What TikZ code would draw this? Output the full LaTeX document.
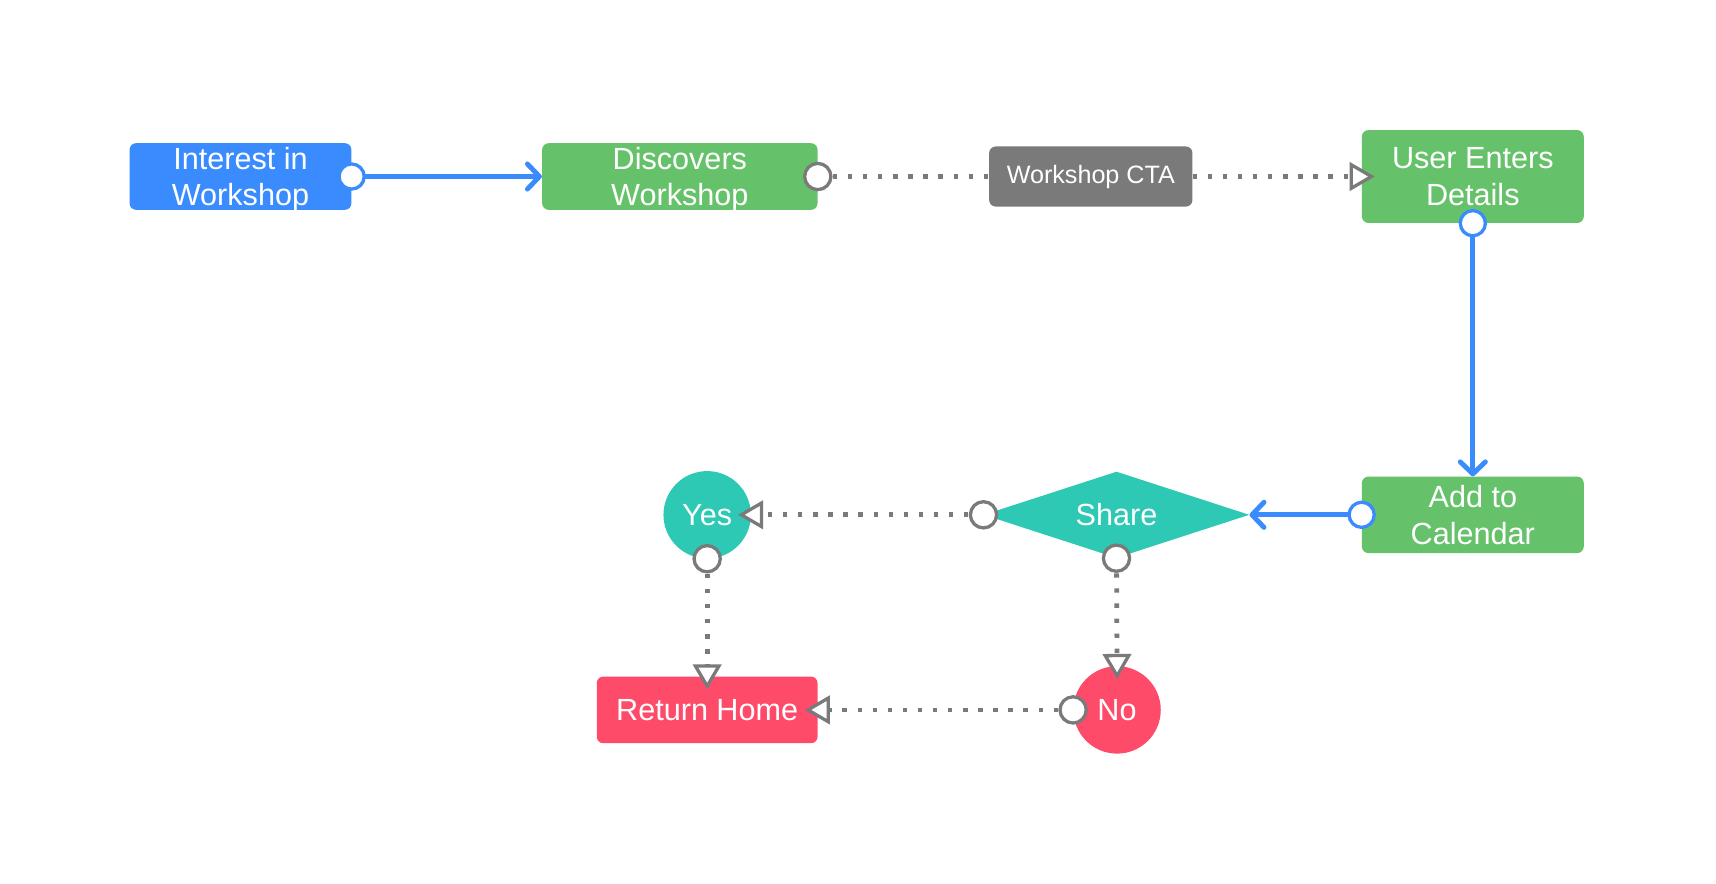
\documentclass[tikz,border=0pt]{standalone}
\usepackage{fontspec}
\setmainfont{Liberation Sans}
\usetikzlibrary{arrows.meta,shapes.geometric}
\definecolor{cblue}{HTML}{3A8BFD}
\definecolor{cgreen}{HTML}{66C26A}
\definecolor{cgray}{HTML}{7A7A7A}
\definecolor{cteal}{HTML}{2DC9B4}
\definecolor{cred}{HTML}{FF4B6A}
\begin{document}
\begin{tikzpicture}[x=1pt,y=-1pt,
  box/.style={rounded corners=6pt, inner sep=0pt, text=white, align=center,
    font=\fontsize{28}{33.5}\selectfont},
  rbox/.style={box, shape=rectangle},
  bline/.style={draw=cblue, line width=4.5pt,
    -{Straight Barb[length=11pt,width=23pt,round]}},
  gline/.style={draw=cgray, line width=4.4pt, dash pattern=on 4pt off 9.8pt},
  garrow/.style={gline, -{Triangle[length=23pt,width=26pt,fill=white,line width=3pt]},
    shorten >=-12pt},
  btail/.style={circle, draw=cblue, fill=white, line width=3pt, minimum size=23pt, inner sep=0pt},
  gtail/.style={circle, draw=cgray, fill=white, line width=3pt, minimum size=24pt, inner sep=0pt}
]
\useasboundingbox (0,0) rectangle (1570,808);

\node[rbox, fill=cblue, minimum width=203pt, minimum height=61pt] (interest) at (220,161.5) {Interest in\\\smash{Workshop}};
\node[rbox, fill=cgreen, minimum width=252pt, minimum height=61pt] (discover) at (622,161.5) {Discovers\\\smash{Workshop}};
\node[rbox, fill=cgray, minimum width=186pt, minimum height=55pt, font=\fontsize{23}{28}\selectfont] (cta) at (998,161.5) {Workshop CTA};
\node[rbox, fill=cgreen, minimum width=203pt, minimum height=85pt] (user) at (1347.5,161.5) {User Enters\\\smash{Details}};
\node[rbox, fill=cgreen, minimum width=203pt, minimum height=70pt] (add) at (1347.5,471) {Add to\\\smash{Calendar}};
\node[box, rounded corners=0pt, shape=diamond, fill=cteal, shape aspect=3.1, minimum width=243pt, minimum height=79pt] (share) at (1021.5,471) {Share};
\node[box, shape=circle, fill=cteal, minimum size=80pt] (yes) at (647,471) {Yes};
\node[box, shape=circle, fill=cred, minimum size=80pt] (no) at (1022,649.5) {No};
\node[rbox, fill=cred, minimum width=202pt, minimum height=61pt] (home) at (647,649.5) {Return Home};

\draw[bline] (interest.east) -- (discover.west);
\draw[gline] (discover.east) -- (cta.west);
\draw[garrow] (cta.east) -- (user.west);
\draw[bline] (user.south) -- (add.north);
\draw[bline] (add.west) -- (share.east);
\draw[garrow] (share.west) -- (yes.east);
\draw[garrow] (share.south) -- (no.north);
\draw[garrow] (yes.south) -- (home.north);
\draw[garrow] (no.west) -- (home.east);

\node[btail] (t1) at (interest.east) {};
\node[gtail] (t2) at (discover.east) {};
\node[btail] (t3) at (user.south) {};
\node[btail] (t4) at (add.west) {};
\node[gtail] (t5) at (share.west) {};
\node[gtail] (t6) at (share.south) {};
\node[gtail] (t7) at (yes.south) {};
\node[gtail] (t8) at (no.west) {};
\end{tikzpicture}
\end{document}
